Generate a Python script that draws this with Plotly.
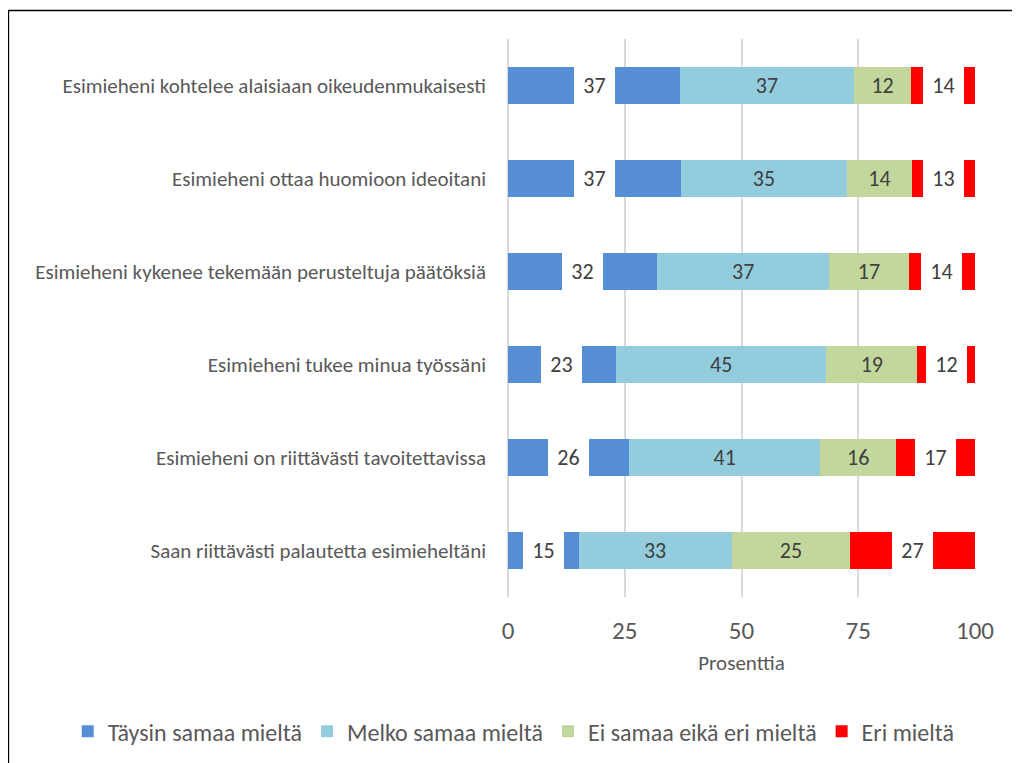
import plotly.graph_objects as go

categories = [
    "Esimieheni kohtelee alaisiaan oikeudenmukaisesti",
    "Esimieheni ottaa huomioon ideoitani",
    "Esimieheni kykenee tekemään perusteltuja päätöksiä",
    "Esimieheni tukee minua työssäni",
    "Esimieheni on riittävästi tavoitettavissa",
    "Saan riittävästi palautetta esimieheltäni",
]
taysin = [36.9, 37.1, 31.9, 23.1, 25.9, 15.1]
melko = [37.1, 35.4, 36.9, 45.1, 41.0, 32.8]
ei_samaa = [12.4, 14.1, 17.0, 19.4, 16.2, 25.4]
eri = [13.6, 13.4, 14.2, 12.4, 16.9, 26.7]
series_names = ["Täysin samaa mieltä", "Melko samaa mieltä", "Ei samaa eikä eri mieltä", "Eri mieltä"]
colors = ["#558ED5", "#93CDDD", "#C3D69B", "#FF0000"]
x_ticks = [0, 25, 50, 75, 100]

FONT = "Carlito, Calibri, Lato, sans-serif"
# page body has an 8px margin; figure coordinates = screen - 8
W, H = 1012, 755
ML, MR, MT, MB = 500, 45.3, 31.3, 165.7
PW = W - ML - MR
PH = H - MT - MB

fig = go.Figure()
for name, vals, col in zip(series_names, [taysin, melko, ei_samaa, eri], colors):
    inside = name in ("Melko samaa mieltä", "Ei samaa eikä eri mieltä")
    fig.add_trace(go.Bar(
        y=categories, x=vals, name=name, orientation="h",
        marker=dict(color=col, line=dict(width=0)),
        texttemplate="%{x:.0f}" if inside else None,
        textposition="inside" if inside else "none",
        insidetextanchor="middle",
        textangle=0,
        constraintext="none",
        insidetextfont=dict(family=FONT, size=22, color="#404040"),
    ))

# white-boxed labels for the outer series (centered on their segments)
bar_px = PH / len(categories) * 0.395
for cat, t, e in zip(categories, taysin, eri):
    for val, center in ((t, t / 2), (e, 100 - e / 2)):
        fig.add_annotation(
            x=center, y=cat, xref="x", yref="y",
            text=f"{round(val):d}", showarrow=False,
            bgcolor="white", width=41, height=bar_px,
            borderpad=0, borderwidth=0,
            font=dict(family=FONT, size=22, color="#404040"),
        )

def px_to_paper_x(px):
    return (px - ML) / PW

def px_to_paper_y(py):
    return (H - MB - py) / PH

# outer chart border (only top and left visible in frame)
fig.add_shape(type="rect", xref="paper", yref="paper",
              x0=px_to_paper_x(0.75), x1=px_to_paper_x(1040),
              y0=px_to_paper_y(790), y1=px_to_paper_y(2.7),
              line=dict(color="black", width=1.5), fillcolor="rgba(0,0,0,0)")

fig.update_layout(
    width=W, height=H,
    margin=dict(l=ML, r=MR, t=MT, b=MB, autoexpand=False),
    barmode="stack", bargap=0.605,
    plot_bgcolor="white", paper_bgcolor="white",
    font=dict(family=FONT, color="#595959"),
    showlegend=True,
    legend=dict(orientation="h", xref="paper", yref="paper",
                x=px_to_paper_x(60), xanchor="left",
                y=px_to_paper_y(724), yanchor="middle",
                font=dict(family=FONT, size=24, color="#595959"),
                traceorder="normal", itemclick=False),
    xaxis=dict(range=[0, 100], tickvals=x_ticks, ticktext=[str(v) for v in x_ticks],
               showgrid=True, gridcolor="#D9D9D9", gridwidth=1.5,
               zeroline=True, zerolinecolor="#D9D9D9", zerolinewidth=1.5,
               showline=False, ticks="",
               tickfont=dict(family=FONT, size=25, color="#595959"),
               ticklabelstandoff=16,
               title=dict(text="Prosenttia", font=dict(family=FONT, size=21, color="#595959"), standoff=10)),
    yaxis=dict(autorange="reversed", showgrid=False, zeroline=False, showline=False,
               ticks="", tickfont=dict(family=FONT, size=21, color="#595959"),
               ticklabelstandoff=21),
)

fig.write_html("out.html")
